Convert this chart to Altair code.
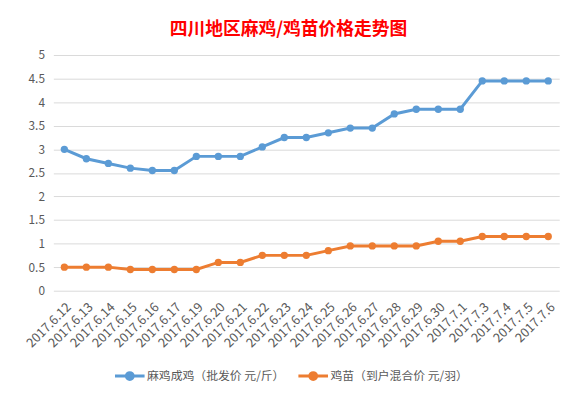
import altair as alt
import pandas as pd

dates = ["2017.6.12", "2017.6.13", "2017.6.14", "2017.6.15", "2017.6.16", "2017.6.17",
         "2017.6.19", "2017.6.20", "2017.6.21", "2017.6.22", "2017.6.23", "2017.6.24",
         "2017.6.25", "2017.6.26", "2017.6.27", "2017.6.28", "2017.6.29", "2017.6.30",
         "2017.7.1", "2017.7.3", "2017.7.4", "2017.7.5", "2017.7.6"]
adult = [3.0, 2.8, 2.7, 2.6, 2.55, 2.55, 2.85, 2.85, 2.85, 3.05, 3.25, 3.25,
         3.35, 3.45, 3.45, 3.75, 3.85, 3.85, 3.85, 4.45, 4.45, 4.45, 4.45]
chick = [0.5, 0.5, 0.5, 0.45, 0.45, 0.45, 0.45, 0.6, 0.6, 0.75, 0.75, 0.75,
         0.85, 0.95, 0.95, 0.95, 0.95, 1.05, 1.05, 1.15, 1.15, 1.15, 1.15]
series_names = ["麻鸡成鸡（批发价 元/斤）", "鸡苗（到户混合价 元/羽）"]
series_colors = ["#5B9BD5", "#ED7D31"]
y_ticks = [0, 0.5, 1, 1.5, 2, 2.5, 3, 3.5, 4, 4.5, 5]
title_text = "四川地区麻鸡/鸡苗价格走势图"

rows = []
for d, v in zip(dates, adult):
    rows.append({"date": d, "value": v, "series": series_names[0]})
for d, v in zip(dates, chick):
    rows.append({"date": d, "value": v, "series": series_names[1]})
df = pd.DataFrame(rows)

FONT = "Noto Sans CJK SC"
GRAY = "#595959"

chart = alt.Chart(df).mark_line(
    strokeWidth=3,
    point=alt.OverlayMarkDef(size=55, filled=True, opacity=1),
).encode(
    x=alt.X("date:N", sort=dates, title=None,
            scale=alt.Scale(type="point", padding=0.5),
            axis=alt.Axis(labelAngle=-45, labelAlign="right", labelBaseline="top",
                          ticks=False, domain=False, grid=False, labelOverlap=False,
                          labelColor=GRAY, labelFontSize=13, labelFont=FONT,
                          labelPadding=10, labelLimit=200)),
    y=alt.Y("value:Q", title=None, scale=alt.Scale(domain=[0, 5], nice=False),
            axis=alt.Axis(values=y_ticks, format="~g", ticks=False, domain=False,
                          grid=True, gridColor="#D9D9D9", gridWidth=1,
                          labelColor=GRAY, labelFontSize=12, labelFont=FONT,
                          labelPadding=9)),
    color=alt.Color("series:N", sort=series_names,
                    scale=alt.Scale(domain=series_names, range=series_colors),
                    legend=alt.Legend(
                        title=None, orient="none", direction="horizontal",
                        legendX=61, legendY=309,
                        symbolType="M-1,0L1,0M-0.23,0A0.23,0.23 0 1,1 0.23,0A0.23,0.23 0 1,1 -0.23,0",
                        symbolSize=900, symbolStrokeWidth=3,
                        labelColor=GRAY, labelFontSize=12, labelFont=FONT,
                        columnPadding=7, labelOffset=1)),
).properties(
    width=513,
    height=239,
    title=alt.TitleParams(title_text, color="#FF0000", fontSize=18, font=FONT,
                          fontWeight="bold", anchor="middle", dx=-18, offset=10),
    autosize=alt.AutoSizeParams(type="none"),
    padding={"left": 46, "top": 45, "right": 17, "bottom": 99},
).configure_view(stroke=None)

chart.save("out.html", embed_options={"renderer": "svg", "actions": False})
